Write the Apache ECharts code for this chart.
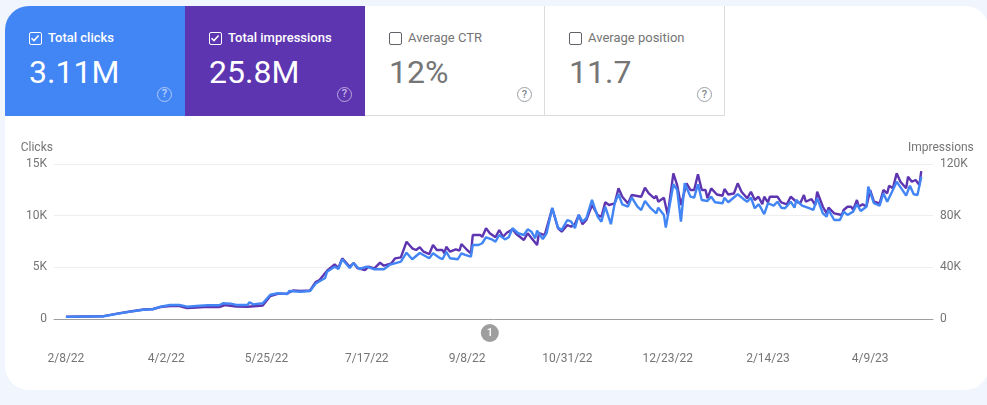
<!DOCTYPE html>
<html>
<head>
<meta charset="utf-8">
<title>Search performance</title>
<script src="https://cdn.jsdelivr.net/npm/echarts@6/dist/echarts.min.js"></script>
<style>
  html, body { margin: 0; padding: 0; background: #f1f5fd; overflow: hidden; }
  #panel { position: absolute; left: 5px; top: 6px; width: 984px; height: 384px; background: #fff; border-radius: 24px; overflow: hidden; }
  #chart { position: absolute; left: 0; top: 0; width: 987px; height: 405px; }
  .card { position: absolute; top: 6px; height: 110px; box-sizing: border-box; font-family: Roboto, sans-serif; color: #fff; }
  .card .name { position: absolute; left: 43px; top: 24px; font-size: 13px; line-height: 16px; font-weight: 500; white-space: nowrap; }
  .card .value { position: absolute; left: 24px; top: 47px; font-size: 32px; line-height: 38px; white-space: nowrap; }
  .card .box { position: absolute; left: 24px; top: 26px; width: 13px; height: 13px; box-sizing: border-box; border: 1.5px solid #fff; border-radius: 2px; }
  .card .box svg { position: absolute; left: 0; top: 0; }
  .card .help { position: absolute; left: 152px; top: 81px; width: 15px; height: 15px; box-sizing: border-box; border: 1.5px solid rgba(255,255,255,.55); border-radius: 50%; font-size: 11px; font-weight: 500; line-height: 12px; text-align: center; color: rgba(255,255,255,.65); }
  .card.off { color: #757575; background: #fff; border-right: 1px solid #dadce0; border-bottom: 1px solid #dadce0; }
  .card.off .name { font-weight: 400; }
  .card.off .box { border-color: #5f6368; border-width: 1px; }
  .card.off .help { border-color: #9aa0a6; border-width: 1px; color: #80868b; line-height: 13px; }
</style>
</head>
<body>
<div id="panel"></div>
<div id="chart"></div>
<div id="cards"></div>
<script>
// days counted from 2/8/22
const tickDays = [0, 53, 106, 159, 212, 265, 318, 371, 425];
const tickLabels = ['2/8/22', '4/2/22', '5/25/22', '7/17/22', '9/8/22', '10/31/22', '12/23/22', '2/14/23', '4/9/23'];
const clickTicks = [0, 5000, 10000, 15000];
const imprTicks = [0, 40000, 80000, 120000];
const annotationDay = 224;

const clickDays = [0, 20, 27, 34, 41, 46, 50, 55, 60, 64, 69, 75, 81, 83, 87, 90, 96, 97, 99, 104, 108, 112, 117, 118, 124, 129, 132, 137, 138, 142, 144, 146, 150, 152, 155, 159, 163, 168, 171, 177, 180, 183, 187, 192, 194, 197, 199, 201, 203, 207, 209, 211, 214, 215, 218, 220, 222, 225, 227, 229, 232, 234, 236, 239, 242, 244, 246, 248, 249, 252, 254, 257, 260, 262, 265, 267, 269, 271, 273, 275, 278, 281, 283, 285, 288, 290, 292, 294, 297, 299, 302, 304, 306, 309, 312, 313, 316, 317, 321, 323, 325, 327, 330, 332, 334, 336, 339, 341, 343, 347, 348, 350, 355, 358, 360, 362, 364, 366, 367, 369, 371, 374, 376, 378, 380, 383, 385, 386, 389, 392, 395, 397, 400, 402, 403, 406, 409, 411, 413, 416, 418, 420, 423, 424, 427, 430, 432, 434, 437, 439, 442, 444, 446, 448, 450, 452];
const clicks = [210, 270, 500, 710, 900, 940, 1190, 1360, 1360, 1190, 1260, 1330, 1330, 1520, 1490, 1360, 1360, 1620, 1420, 1520, 2350, 2490, 2420, 2710, 2640, 2710, 3440, 3970, 4580, 5060, 4840, 5780, 4940, 5420, 4840, 5060, 4810, 4810, 5230, 5550, 6420, 5780, 6390, 5880, 6360, 5970, 5780, 6510, 5880, 5780, 6360, 6200, 6030, 7160, 7160, 7330, 7910, 7710, 7480, 8130, 7710, 7910, 8780, 8300, 8130, 8680, 8450, 7810, 8550, 7740, 8300, 10770, 8840, 8620, 9580, 9420, 8780, 10070, 9420, 9750, 11520, 9900, 9420, 10870, 9170, 11200, 12070, 11100, 10870, 11780, 10870, 10550, 11420, 10720, 10230, 10770, 10070, 8840, 13040, 12490, 9420, 13140, 11840, 11740, 13040, 11520, 11420, 11840, 11300, 11200, 11740, 11300, 12070, 11620, 11350, 11740, 10720, 11100, 10840, 10140, 11200, 10970, 11350, 10770, 10720, 11350, 10770, 11520, 10970, 10770, 10550, 11680, 10230, 9900, 10550, 9580, 9580, 10390, 10070, 10390, 11100, 10450, 10870, 12810, 11200, 10970, 12170, 11350, 12490, 13290, 12490, 11940, 12900, 12070, 12000, 13770];

const imprDays = [0, 20, 27, 34, 41, 46, 50, 55, 60, 64, 69, 75, 81, 84, 90, 96, 97, 104, 108, 112, 117, 120, 124, 129, 132, 134, 138, 142, 144, 146, 150, 152, 154, 158, 160, 163, 166, 168, 172, 174, 177, 180, 183, 185, 187, 189, 192, 194, 196, 199, 200, 201, 203, 206, 208, 209, 212, 214, 215, 219, 220, 222, 224, 227, 229, 231, 233, 236, 238, 242, 244, 246, 249, 250, 253, 254, 257, 260, 262, 265, 267, 269, 271, 273, 275, 278, 281, 283, 285, 287, 290, 292, 294, 297, 299, 304, 306, 308, 311, 312, 313, 316, 318, 321, 323, 325, 328, 330, 332, 334, 336, 338, 339, 341, 344, 347, 348, 350, 353, 355, 357, 360, 362, 364, 366, 368, 369, 371, 372, 376, 378, 381, 383, 386, 388, 390, 391, 394, 396, 397, 400, 402, 403, 406, 410, 411, 413, 415, 416, 418, 419, 421, 423, 425, 427, 430, 432, 434, 435, 437, 439, 441, 444, 445, 447, 449, 451, 452];
const impressions = [1700, 2170, 4180, 5800, 7350, 7740, 9290, 10060, 10060, 8510, 8900, 9440, 9290, 10840, 9680, 9440, 10840, 10450, 17800, 19500, 19740, 22060, 21670, 22060, 28640, 30190, 37380, 42340, 39470, 46980, 40480, 43340, 39470, 37930, 40480, 39240, 43580, 41250, 43110, 46980, 47760, 59830, 54720, 53410, 55500, 52090, 50310, 57280, 53410, 53410, 50850, 55960, 52090, 53950, 53020, 58050, 53410, 50850, 65020, 65020, 63470, 70200, 66330, 63240, 68890, 63700, 66800, 69430, 65790, 61150, 66330, 62690, 57280, 66560, 65020, 65020, 85690, 70430, 67570, 72760, 71440, 73530, 80500, 73300, 76630, 88240, 80500, 79180, 90320, 88240, 89480, 101160, 94660, 89480, 95980, 94660, 101630, 97290, 93420, 95410, 90790, 93890, 80500, 112770, 103720, 88240, 105030, 99850, 99850, 112000, 99850, 99850, 93420, 101160, 96360, 95410, 100620, 96360, 97130, 105030, 98530, 93420, 98530, 92110, 94660, 88780, 94660, 90320, 94660, 94660, 90320, 88780, 94660, 90790, 89480, 95980, 90790, 92880, 88240, 98530, 86920, 81810, 86150, 81810, 80500, 84370, 86920, 86920, 84370, 92110, 86920, 88780, 86920, 99850, 90790, 89480, 99850, 97290, 103170, 101160, 112770, 106270, 101160, 110140, 106270, 107590, 103720, 114550];

const cardNames = ['Total clicks', 'Total impressions', 'Average CTR', 'Average position'];
const cardValues = ['3.11M', '25.8M', '12%', '11.7'];
const cardFills = ['#4285f4', '#5e35b1', null, null];
const cardLefts = [5, 185, 365, 545];
const cardWidths = [180, 180, 180, 180];

const labelColor = '#757575';
const labelFont = 'Roboto, sans-serif';

document.getElementById('cards').innerHTML = cardNames.map(function (name, i) {
    const on = cardFills[i] !== null;
    const tick = on ? '<svg width="10" height="10" viewBox="0 0 10 10"><path d="M1.5 5.2 L4 7.6 L8.6 2.4" fill="none" stroke="#fff" stroke-width="1.5"/></svg>' : '';
    const fill = on ? 'background:' + cardFills[i] + ';' : '';
    return '<div class="card ' + (on ? 'on' : 'off') + '" style="left:' + cardLefts[i] + 'px;width:' + cardWidths[i] + 'px;' + fill + (i === 0 ? 'border-top-left-radius:24px;' : '') + '">' +
        '<span class="box">' + tick + '</span>' +
        '<span class="name">' + name + '</span>' +
        '<span class="value">' + cardValues[i] + '</span>' +
        '<span class="help">?</span></div>';
}).join('');

function pairs(days, values) {
    return days.map(function (d, i) { return [d, values[i]]; });
}

function shortNumber(v) {
    return v === 0 ? '0' : (v / 1000) + 'K';
}

const chart = echarts.init(document.getElementById('chart'));
chart.setOption({
    animation: false,
    grid: { left: 54, right: 54, top: 164, height: 155 },
    xAxis: {
        type: 'value',
        min: -6.3,
        max: 458.2,
        splitLine: { show: false },
        axisLine: { onZero: false, lineStyle: { color: '#9e9e9e', width: 1 } },
        axisTick: { show: false },
        axisLabel: {
            customValues: tickDays,
            margin: 34,
            color: labelColor,
            fontFamily: labelFont,
            fontSize: 12,
            formatter: function (v) { return tickLabels[tickDays.indexOf(v)]; }
        }
    },
    yAxis: [
        {
            type: 'value',
            min: clickTicks[0],
            max: clickTicks[3],
            interval: clickTicks[1],
            name: 'Clicks',
            nameGap: 10,
            nameTextStyle: { color: labelColor, fontFamily: labelFont, fontSize: 12, align: 'right', padding: [0, 13, 0, 0] },
            axisLine: { show: false },
            axisTick: { show: false },
            splitLine: { lineStyle: { color: '#eeeeee' } },
            axisLabel: { margin: 7, color: labelColor, fontFamily: labelFont, fontSize: 12, padding: [2, 0, 0, 0], formatter: shortNumber }
        },
        {
            type: 'value',
            min: imprTicks[0],
            max: imprTicks[3],
            interval: imprTicks[1],
            name: 'Impressions',
            nameGap: 10,
            nameTextStyle: { color: labelColor, fontFamily: labelFont, fontSize: 12, align: 'left', padding: [0, 0, 0, -25] },
            axisLine: { show: false },
            axisTick: { show: false },
            splitLine: { show: false },
            axisLabel: { margin: 7, color: labelColor, fontFamily: labelFont, fontSize: 12, padding: [2, 0, 0, 0], formatter: shortNumber }
        }
    ],
    series: [
        {
            name: 'Impressions',
            type: 'line',
            yAxisIndex: 1,
            showSymbol: false,
            lineStyle: { color: '#5e35b1', width: 2.4 },
            data: pairs(imprDays, impressions)
        },
        {
            name: 'Clicks',
            type: 'line',
            yAxisIndex: 0,
            showSymbol: false,
            lineStyle: { color: '#4285f4', width: 2.4 },
            data: pairs(clickDays, clicks),
            markPoint: {
                symbol: 'circle',
                symbolSize: 18,
                symbolOffset: [0, 14],
                itemStyle: { color: '#9e9e9e' },
                label: { color: '#fff', fontFamily: labelFont, fontSize: 11, fontWeight: 500, formatter: '1' },
                data: [{ coord: [annotationDay, 0] }]
            }
        }
    ]
});
</script>
</body>
</html>
